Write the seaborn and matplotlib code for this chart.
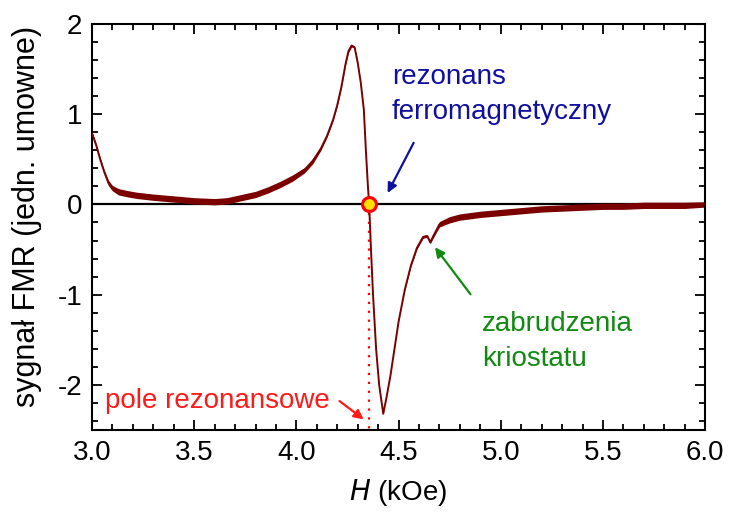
import numpy as np
import pandas as pd
import matplotlib
matplotlib.use("Agg")
import matplotlib.pyplot as plt
from matplotlib.ticker import MultipleLocator
import seaborn as sns

# pole H (kOe) i sygnal FMR
H = [3.00, 3.02, 3.04, 3.06, 3.08, 3.10, 3.13, 3.17, 3.22, 3.30, 3.40, 3.50,
     3.60, 3.66, 3.72, 3.80, 3.86, 3.92, 3.98, 4.04, 4.08, 4.12, 4.15, 4.18,
     4.20, 4.22, 4.24, 4.255, 4.27, 4.285, 4.30, 4.315, 4.33, 4.34, 4.35,
     4.356, 4.365, 4.375, 4.39, 4.405, 4.425, 4.44, 4.46, 4.48, 4.50, 4.53,
     4.56, 4.59, 4.62, 4.64, 4.655, 4.67, 4.70, 4.75, 4.80, 4.90, 5.00, 5.10,
     5.20, 5.30, 5.40, 5.50, 5.60, 5.70, 5.80, 5.90, 6.00]
signal = [0.79, 0.66, 0.50, 0.36, 0.24, 0.18, 0.14, 0.12, 0.10, 0.08, 0.06, 0.04,
          0.03, 0.04, 0.07, 0.11, 0.16, 0.22, 0.29, 0.38, 0.48, 0.62, 0.76, 0.94,
          1.10, 1.30, 1.55, 1.70, 1.76, 1.74, 1.57, 1.35, 1.05, 0.60, 0.20,
          0.00, -0.50, -1.00, -1.60, -2.00, -2.32, -2.15, -1.90, -1.60, -1.30, -0.95,
          -0.68, -0.48, -0.36, -0.35, -0.42, -0.35, -0.22, -0.17, -0.14, -0.11, -0.09, -0.07,
          -0.05, -0.04, -0.03, -0.02, -0.02, -0.01, -0.01, -0.01, 0.00]
# polowa szerokosci pasma szumu
noise = [0.015, 0.015, 0.02, 0.02, 0.03, 0.03, 0.035, 0.035, 0.035, 0.035, 0.035, 0.035,
         0.035, 0.035, 0.035, 0.035, 0.035, 0.035, 0.035, 0.03, 0.03, 0.02, 0.015, 0.01,
         0.01, 0.01, 0.01, 0.015, 0.015, 0.01, 0.01, 0.0, 0.0, 0.0, 0.0,
         0.0, 0.0, 0.0, 0.0, 0.0, 0.0, 0.0, 0.0, 0.0, 0.0, 0.005,
         0.01, 0.015, 0.015, 0.015, 0.015, 0.02, 0.03, 0.035, 0.035, 0.035, 0.035, 0.035,
         0.035, 0.035, 0.035, 0.035, 0.035, 0.035, 0.035, 0.035, 0.03]
H_res = 4.356

df = pd.DataFrame({"H": H, "sygnal": signal, "szum": noise})

sns.set_style("ticks", {"axes.edgecolor": "black", "text.color": "black",
                        "axes.labelcolor": "black", "xtick.color": "black",
                        "ytick.color": "black"})
plt.rcParams["font.family"] = ["Liberation Sans", "DejaVu Sans"]
plt.rcParams["axes.unicode_minus"] = False

fig = plt.figure(figsize=(7.3, 5.2), dpi=100)
ax = fig.add_axes([0.126, 0.173, 0.840, 0.781])

ax.axhline(0, color="black", lw=1.6, zorder=1)
ax.fill_between(df["H"], df["sygnal"] - df["szum"], df["sygnal"] + df["szum"],
                color="#7b0000", lw=0, zorder=2)
sns.lineplot(data=df, x="H", y="sygnal", color="#7b0000", lw=1.4, ax=ax, zorder=3)

# linia pola rezonansowego
ax.plot([H_res, H_res], [0, -2.5], color="red", ls=(0, (1, 3)), lw=1.6, zorder=2)
ax.plot(H_res, 0, "o", ms=10, mfc="#ffe000", mec="red", mew=2.2, zorder=5)

ax.set_xlim(3.0, 6.0)
ax.set_ylim(-2.5, 2.0)
ax.xaxis.set_major_locator(MultipleLocator(0.5))
ax.xaxis.set_minor_locator(MultipleLocator(0.1))
ax.yaxis.set_major_locator(MultipleLocator(1))
ax.yaxis.set_minor_locator(MultipleLocator(0.2))
ax.xaxis.set_major_formatter(matplotlib.ticker.FormatStrFormatter("%.1f"))
ax.tick_params(which="both", direction="in", top=True, right=True, width=1.3,
               color="black")
ax.tick_params(which="major", length=7, labelsize=20, pad=7)
ax.tick_params(which="minor", length=4)
for s in ax.spines.values():
    s.set_linewidth(1.5)
    s.set_visible(True)

ax.set_xlabel("$\\it{H}$ (kOe)", fontsize=20, labelpad=8)
ax.set_ylabel("sygnał FMR (jedn. umowne)", fontsize=22)
ax.yaxis.set_label_coords(-0.082, 0.527)

ax.text(4.468, 1.213, "rezonans\nferromagnetyczny", color="#1010a0", fontsize=20,
        ha="left", va="center", linespacing=1.45)
ax.annotate("", xy=(4.44, 0.10), xytext=(4.58, 0.71),
            arrowprops=dict(arrowstyle="-|>", color="#1010a0", lw=1.6, mutation_scale=14))

ax.text(4.909, -1.52, "zabrudzenia\nkriostatu", color="#108a10", fontsize=20,
        ha="left", va="center", linespacing=1.45)
ax.annotate("", xy=(4.67, -0.45), xytext=(4.86, -1.02),
            arrowprops=dict(arrowstyle="-|>", color="#108a10", lw=1.6, mutation_scale=14))

ax.text(3.064, -2.18, "pole rezonansowe", color="#ff1a1a", fontsize=20,
        ha="left", va="center")
ax.annotate("", xy=(4.34, -2.40), xytext=(4.20, -2.16),
            arrowprops=dict(arrowstyle="-|>", color="#ff1a1a", lw=1.6, mutation_scale=14))

fig.savefig("out.png", dpi=100)
